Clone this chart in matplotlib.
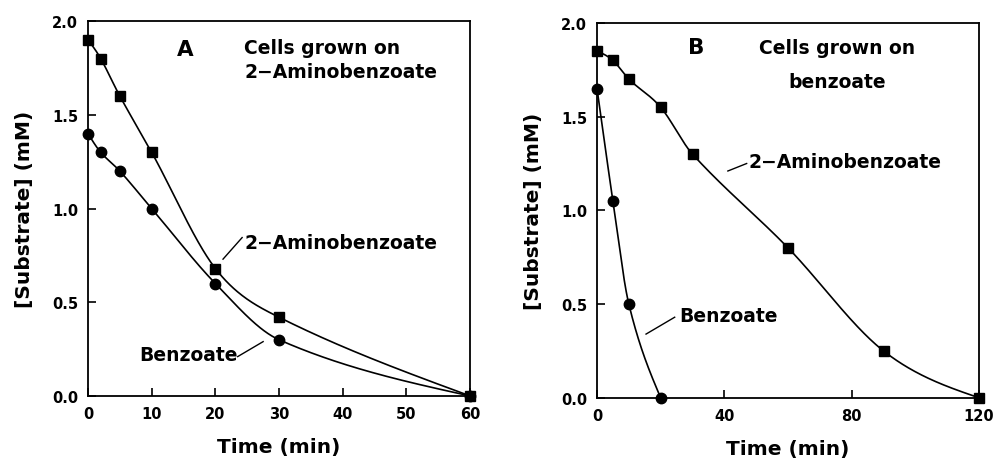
import numpy as np
import matplotlib
matplotlib.use("Agg")
import matplotlib.pyplot as plt

# panel A: cells grown on 2-aminobenzoate
tA = [0, 2, 5, 10, 20, 30, 60]
aminoA = [1.90, 1.80, 1.60, 1.30, 0.68, 0.42, 0.0]
benzA = [1.40, 1.30, 1.20, 1.00, 0.60, 0.30, 0.0]

# panel B: cells grown on benzoate
tB_amino = [0, 5, 10, 20, 30, 60, 90, 120]
aminoB = [1.85, 1.80, 1.70, 1.55, 1.30, 0.80, 0.25, 0.0]
tB_benz = [0, 5, 10, 20]
benzB = [1.65, 1.05, 0.50, 0.0]

yticks = [0.0, 0.5, 1.0, 1.5, 2.0]
xticksA = [0, 10, 20, 30, 40, 50, 60]
xticksB = [0, 40, 80, 120]


def smooth(x, y, n=400):
    # cardinal hermite curve through the points, for the drawn line
    x = np.asarray(x, float)
    y = np.asarray(y, float)
    h = np.diff(x)
    d = np.diff(y) / h
    m = np.zeros_like(y)
    m[1:-1] = (y[2:] - y[:-2]) / (x[2:] - x[:-2])
    m[0] = (3*d[0] - m[1]) / 2
    m[-1] = (3*d[-1] - m[-2]) / 2
    xs = np.linspace(x[0], x[-1], n)
    k = np.clip(np.searchsorted(x, xs) - 1, 0, len(h) - 1)
    t = (xs - x[k]) / h[k]
    h00 = 2*t**3 - 3*t**2 + 1
    h10 = t**3 - 2*t**2 + t
    h01 = -2*t**3 + 3*t**2
    h11 = t**3 - t**2
    ys = h00*y[k] + h10*h[k]*m[k] + h01*y[k+1] + h11*h[k]*m[k+1]
    return xs, ys


plt.rcParams['font.family'] = 'DejaVu Sans'
plt.rcParams['font.weight'] = 'bold'

fig = plt.figure(figsize=(9.94, 4.6), dpi=100)
ax1 = fig.add_axes([0.0885, 0.137, 0.3845, 0.815])
ax2 = fig.add_axes([0.6006, 0.133, 0.3844, 0.815])

lw = 1.2
fs = 13.5
for ax in (ax1, ax2):
    for s in ax.spines.values():
        s.set_linewidth(1.3)
    ax.tick_params(direction='in', length=6, width=1.2, pad=7, labelsize=10.5,
                   top=False, right=False)
    ax.set_ylim(0, 2.0)
    ax.set_yticks(yticks)
    ax.set_yticklabels(['%.1f' % v for v in yticks])
    ax.set_xlabel('Time (min)', fontsize=14.5, fontweight='bold', labelpad=12)
    ax.set_ylabel('[Substrate] (mM)', fontsize=14.5, fontweight='bold', labelpad=13)

# panel A
sx, sy = smooth(tA, aminoA)
ax1.plot(sx, sy, color='black', lw=lw)
sx, sy = smooth(tA, benzA)
ax1.plot(sx, sy, color='black', lw=lw)
ax1.plot(tA, aminoA, 's', color='black', ms=6.5, clip_on=False)
ax1.plot(tA, benzA, 'o', color='black', ms=7.5, clip_on=False)
ax1.set_xlim(0, 60)
ax1.set_xticks(xticksA)
ax1.text(15.3, 1.85, 'A', fontsize=15.5, fontweight='bold', ha='center', va='center')
ax1.text(24.5, 1.86, 'Cells grown on', fontsize=fs, ha='left', va='center')
ax1.text(24.5, 1.73, '2\u2212Aminobenzoate', fontsize=fs, ha='left', va='center')
ax1.text(24.6, 0.82, '2\u2212Aminobenzoate', fontsize=fs, ha='left', va='center')
ax1.plot([21.2, 24.2], [0.73, 0.845], color='black', lw=1.0)
ax1.text(23.5, 0.22, 'Benzoate', fontsize=fs, ha='right', va='center')
ax1.plot([23.5, 27.5], [0.21, 0.29], color='black', lw=1.0)

# panel B
sx, sy = smooth(tB_amino, aminoB)
ax2.plot(sx, sy, color='black', lw=lw)
sx, sy = smooth(tB_benz, benzB)
ax2.plot(sx, sy, color='black', lw=lw)
ax2.plot(tB_amino, aminoB, 's', color='black', ms=6.5, clip_on=False)
ax2.plot(tB_benz, benzB, 'o', color='black', ms=7.5, clip_on=False)
ax2.set_xlim(0, 120)
ax2.set_xticks(xticksB)
ax2.text(31.3, 1.87, 'B', fontsize=15.5, fontweight='bold', ha='center', va='center')
ax2.text(75.3, 1.87, 'Cells grown on', fontsize=fs, ha='center', va='center')
ax2.text(75.3, 1.69, 'benzoate', fontsize=fs, ha='center', va='center')
ax2.text(47.5, 1.26, '2\u2212Aminobenzoate', fontsize=fs, ha='left', va='center')
ax2.plot([41.1, 47.0], [1.21, 1.25], color='black', lw=1.0)
ax2.text(25.7, 0.44, 'Benzoate', fontsize=fs, ha='left', va='center')
ax2.plot([15.4, 24.4], [0.34, 0.43], color='black', lw=1.0)

fig.savefig('out.png', dpi=100)
